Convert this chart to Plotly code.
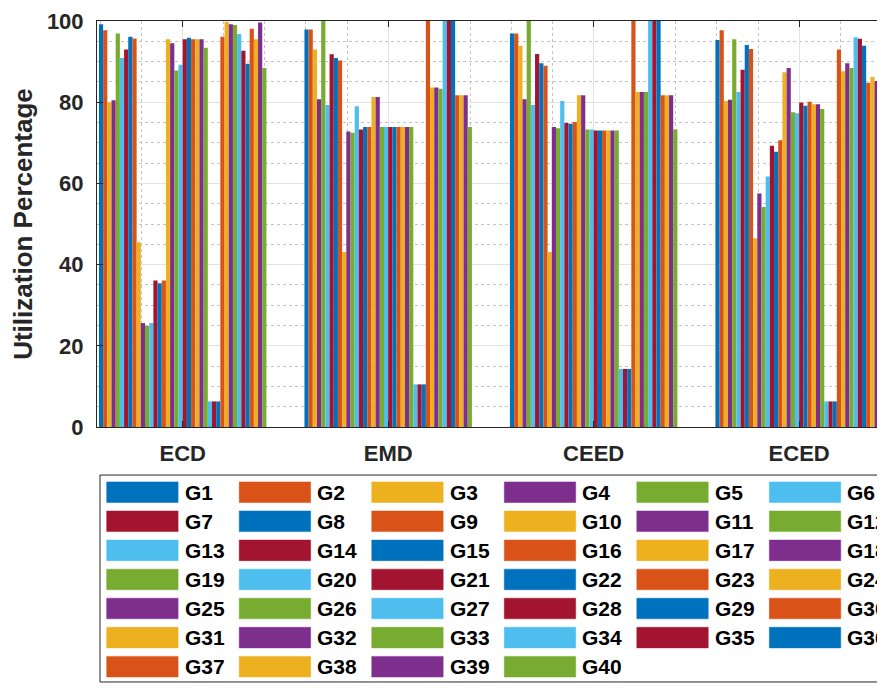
import plotly.graph_objects as go

methods = ["ECD", "EMD", "CEED", "ECED"]
series_names = [f"G{i}" for i in range(1, 41)]
palette = ["#0072BD", "#D95319", "#EDB120", "#7E2F8E", "#77AC30", "#4DBEEE", "#A2142F"]

ecd = [99.2, 97.7, 80.0, 80.5, 96.9, 90.9, 93.0, 96.1, 95.7, 45.5,
       25.6, 24.9, 25.6, 36.1, 35.4, 36.1, 95.5, 94.5, 87.8, 89.2,
       95.5, 95.9, 95.5, 95.5, 95.5, 93.4, 6.3, 6.3, 6.3, 96.1,
       99.8, 99.2, 99.0, 96.8, 92.7, 89.5, 98.1, 95.5, 99.6, 88.4]
emd = [97.9, 97.9, 93.0, 80.7, 100, 79.3, 91.8, 90.9, 90.3, 43.1,
       72.8, 72.5, 79.0, 73.3, 73.9, 73.9, 81.3, 81.3, 73.9, 73.9,
       73.9, 73.9, 73.9, 73.9, 73.9, 73.9, 10.5, 10.5, 10.5, 100,
       83.6, 83.6, 83.3, 100, 100, 100, 81.7, 81.7, 81.7, 73.9]
ceed = [96.9, 96.9, 93.9, 80.7, 100, 79.3, 91.9, 89.6, 89.0, 43.1,
        73.9, 73.6, 80.3, 74.9, 74.7, 75.1, 81.7, 81.7, 73.3, 73.3,
        73.0, 73.0, 73.0, 73.0, 73.0, 73.0, 14.3, 14.3, 14.3, 100,
        82.5, 82.5, 82.5, 100, 100, 100, 81.7, 81.7, 81.7, 73.3]
eced = [95.3, 97.7, 80.3, 80.6, 95.5, 82.5, 88.0, 94.1, 93.1, 46.5,
        57.5, 54.2, 61.7, 69.3, 67.8, 70.6, 87.4, 88.4, 77.5, 77.3,
        79.9, 79.1, 80.1, 79.5, 79.5, 78.3, 6.3, 6.3, 6.3, 93.0,
        87.6, 89.6, 88.4, 96.0, 95.6, 93.9, 84.8, 86.2, 85.2, 76.1]

y_ticks = [0, 20, 40, 60, 80, 100]

FONT = "Liberation Sans, Arial, sans-serif"
AX = "#262626"

fig = go.Figure()
xpos = [1, 2, 3, 4]
for i, name in enumerate(series_names):
    fig.add_trace(go.Bar(
        x=xpos, y=[ecd[i], emd[i], ceed[i], eced[i]], name=name,
        marker=dict(color=palette[i % 7], line=dict(width=0)),
        showlegend=False))

# page has an 8px body margin; figure sized so the window matches
FIG_W, FIG_H = 877, 680
L, R, T = 89, 1, 5
W = FIG_W - L - R
H = 414
B = FIG_H - T - H
OFF = 8  # window offset

def px_x(xw):
    return (xw - OFF - L) / W

def px_y(yw):
    return (T + H - (yw - OFF)) / H

shapes = []
annotations = []
shapes.append(dict(type="rect", xref="paper", yref="paper",
                   x0=px_x(100), x1=px_x(884), y0=px_y(687), y1=px_y(476),
                   line=dict(color=AX, width=1), fillcolor="white", layer="above"))
col_left0, col_step = 106.7, 132.7
row_c0, row_step = 493.5, 29.65
sw_w, sw_h = 71.5, 21
for i, name in enumerate(series_names):
    r, c = divmod(i, 6)
    xl = col_left0 + c * col_step
    yc = row_c0 + r * row_step
    shapes.append(dict(type="rect", xref="paper", yref="paper",
                       x0=px_x(xl), x1=px_x(xl + sw_w),
                       y0=px_y(yc + sw_h / 2), y1=px_y(yc - sw_h / 2),
                       line=dict(color=palette[i % 7], width=0.5),
                       fillcolor=palette[i % 7], layer="above"))
    annotations.append(dict(text=name, xref="paper", yref="paper",
                            x=px_x(xl + 76), y=px_y(yc), xanchor="left", yanchor="middle",
                            showarrow=False,
                            font=dict(family=FONT, size=21, color="black", weight="bold")))

fig.update_layout(
    width=FIG_W, height=FIG_H, autosize=False,
    margin=dict(l=L, r=R, t=T, b=B, pad=0),
    paper_bgcolor="white", plot_bgcolor="white",
    barmode="group", bargap=0.185, bargroupgap=0,
    font=dict(family=FONT, color=AX),
    shapes=shapes, annotations=annotations,
    showlegend=False,
)
fig.update_xaxes(
    type="linear", range=[0.583, 4.408],
    tickvals=xpos, ticktext=methods,
    tickfont=dict(family=FONT, size=22, color=AX, weight="bold"),
    ticks="inside", ticklen=6, tickcolor=AX,
    showline=True, linecolor=AX, linewidth=1, mirror="ticks",
    showgrid=True, gridcolor="#e3e3e3", gridwidth=1,
    minor=dict(dtick=0.2, tick0=0, showgrid=True, gridcolor="#c4c4c4", griddash="dot", gridwidth=1),
    ticklabelstandoff=7, zeroline=False, ticklabeloverflow="allow",
)
fig.update_yaxes(
    range=[0, 100], tickvals=y_ticks,
    tickfont=dict(family=FONT, size=22, color=AX, weight="bold"),
    ticks="inside", ticklen=6, tickcolor=AX,
    showline=True, linecolor=AX, linewidth=1, mirror="ticks",
    showgrid=True, gridcolor="#e3e3e3", gridwidth=1,
    minor=dict(dtick=5, showgrid=True, gridcolor="#c4c4c4", griddash="dot", gridwidth=1),
    ticklabelstandoff=8, zeroline=False, ticklabeloverflow="allow",
    title=dict(text="Utilization Percentage",
               font=dict(family=FONT, size=26, color=AX, weight="bold"), standoff=20),
)

fig.write_html("out.html")
